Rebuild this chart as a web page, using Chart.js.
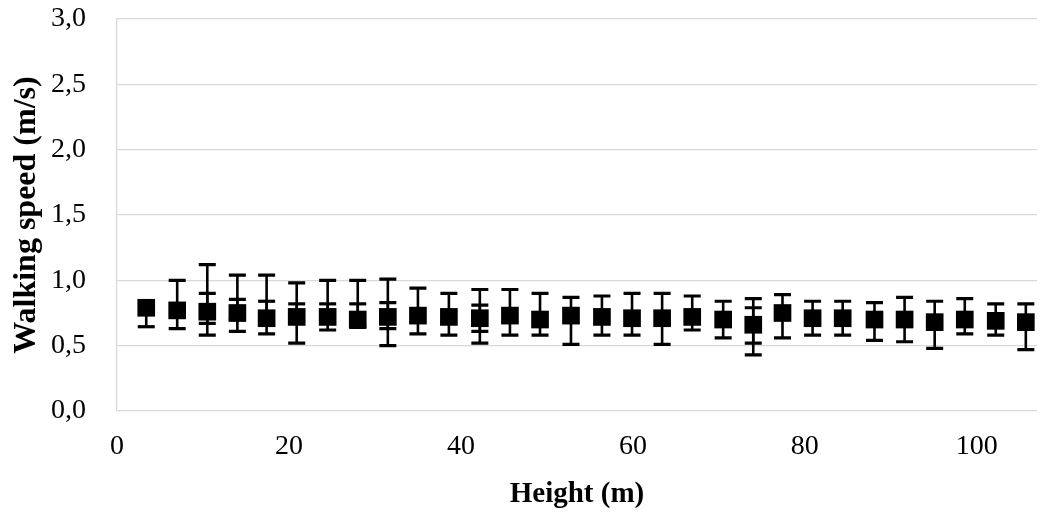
<!DOCTYPE html>
<html>
<head>
<meta charset="utf-8">
<script src="https://cdn.jsdelivr.net/npm/chart.js@4/dist/chart.umd.min.js"></script>
<style>
  html, body { margin: 0; padding: 0; background: #fff; }
  #wrap { width: 1040px; height: 512px; }
</style>
</head>
<body>
<div id="wrap"><canvas id="chart" width="1040" height="512"></canvas></div>
<script>
// Height of each measurement point (m)
const heights = [3.4, 7.0, 10.5, 14.0, 17.4, 20.9, 24.5, 28.0, 31.5, 35.0,
  38.6, 42.2, 45.7, 49.2, 52.8, 56.4, 59.9, 63.4, 66.9, 70.5,
  74.0, 77.4, 80.9, 84.4, 88.1, 91.6, 95.1, 98.6, 102.2, 105.7];
// Mean walking speed (m/s)
const speeds = [0.79, 0.77, 0.76, 0.75, 0.71, 0.72, 0.72, 0.70, 0.72, 0.73,
  0.72, 0.71, 0.73, 0.70, 0.73, 0.72, 0.71, 0.71, 0.72, 0.70,
  0.66, 0.75, 0.71, 0.71, 0.70, 0.70, 0.68, 0.70, 0.69, 0.68];
// Outer error bar ends
const outerHigh = [null, 1.00, 1.12, 1.04, 1.04, 0.98, 1.00, 1.00, 1.01, 0.94,
  0.90, 0.93, 0.93, 0.90, 0.87, 0.88, 0.90, 0.90, 0.88, 0.84,
  0.86, 0.89, 0.84, 0.84, 0.83, 0.87, 0.84, 0.86, 0.82, 0.82];
const outerLow = [0.645, 0.63, 0.58, 0.61, 0.59, 0.52, 0.62, 0.64, 0.50, 0.59,
  0.58, 0.52, 0.58, 0.58, 0.51, 0.58, 0.58, 0.51, 0.62, 0.56,
  0.43, 0.56, 0.58, 0.58, 0.54, 0.53, 0.48, 0.59, 0.58, 0.47];
// Inner error bar ends (second set, where visible)
const innerHigh = [null, null, 0.90, 0.855, 0.84, 0.82, 0.82, 0.82, 0.83, null,
  null, 0.81, null, null, null, null, null, null, null, null,
  0.79, null, null, null, null, null, null, null, null, null];
const innerLow = [null, null, 0.67, 0.70, null, null, null, null, 0.63, null,
  null, 0.61, null, null, null, null, null, null, null, null,
  0.52, null, null, null, null, null, null, null, null, null];

const yTicks = [0, 0.5, 1.0, 1.5, 2.0, 2.5, 3.0];
const xTickStep = 20;

const fontFamily = "'Liberation Serif', 'Times New Roman', serif";

// draws the error bars through the chart scales
const errorBars = {
  id: "errorBars",
  afterDatasetsDraw(chart) {
    const { ctx, scales: { x, y } } = chart;
    const capHalf = 8.5;
    ctx.save();
    ctx.strokeStyle = "#000";
    function bar(i, hi, lo) {
      const px = x.getPixelForValue(heights[i]);
      const pm = y.getPixelForValue(speeds[i]);
      ctx.lineWidth = 2.6;
      ctx.beginPath();
      if (hi !== null) { ctx.moveTo(px, pm); ctx.lineTo(px, y.getPixelForValue(hi)); }
      if (lo !== null) { ctx.moveTo(px, pm); ctx.lineTo(px, y.getPixelForValue(lo)); }
      ctx.stroke();
      ctx.lineWidth = 3.2;
      ctx.beginPath();
      [hi, lo].forEach((v) => {
        if (v === null) return;
        const py = y.getPixelForValue(v);
        ctx.moveTo(px - capHalf, py);
        ctx.lineTo(px + capHalf, py);
      });
      ctx.stroke();
    }
    heights.forEach((h, i) => {
      bar(i, outerHigh[i], outerLow[i]);
      bar(i, innerHigh[i], innerLow[i]);
    });
    ctx.restore();
  }
};

new Chart(document.getElementById("chart"), {
  type: "scatter",
  data: {
    datasets: [{
      label: "Walking speed",
      data: heights.map((h, i) => ({ x: h, y: speeds[i] })),
      pointStyle: "rect",
      pointRadius: 12.5,
      pointHoverRadius: 12.5,
      backgroundColor: "#000",
      borderWidth: 0
    }]
  },
  options: {
    responsive: false,
    animation: false,
    layout: { autoPadding: false, padding: { top: 19, right: 3, left: 0, bottom: 0 } },
    plugins: { legend: { display: false }, tooltip: { enabled: false } },
    scales: {
      x: {
        type: "linear",
        min: 0,
        max: 107,
        afterFit(scale) {
          scale.height = 101;
          scale.paddingLeft = 0;
          scale.paddingRight = 0;
        },
        afterBuildTicks(scale) {
          const t = [];
          for (let v = 0; v <= 100; v += xTickStep) t.push({ value: v });
          scale.ticks = t;
        },
        grid: { display: false, drawTicks: false },
        border: { display: false },
        ticks: {
          padding: 19,
          color: "#000",
          font: { family: fontFamily, size: 28 }
        },
        title: {
          display: true,
          text: "Height (m)",
          color: "#000",
          padding: { top: 0, bottom: 0 },
          font: { family: fontFamily, size: 29, weight: "bold" }
        }
      },
      y: {
        min: 0,
        max: 3,
        afterFit(scale) {
          scale.width = 117;
          scale.paddingTop = 0;
          scale.paddingBottom = 0;
        },
        afterBuildTicks(scale) { scale.ticks = yTicks.map((v) => ({ value: v })); },
        grid: { color: "#d9d9d9", lineWidth: 1.3, drawTicks: false },
        border: { display: true, color: "#d9d9d9", width: 1.3 },
        ticks: {
          padding: 31,
          color: "#000",
          font: { family: fontFamily, size: 28 },
          callback: (v) => v.toFixed(1).replace(".", ",")
        },
        title: {
          display: true,
          text: "Walking speed (m/s)",
          color: "#000",
          padding: { top: 8, bottom: 0 },
          font: { family: fontFamily, size: 32, weight: "bold" }
        }
      }
    }
  },
  plugins: [errorBars]
});
</script>
</body>
</html>
